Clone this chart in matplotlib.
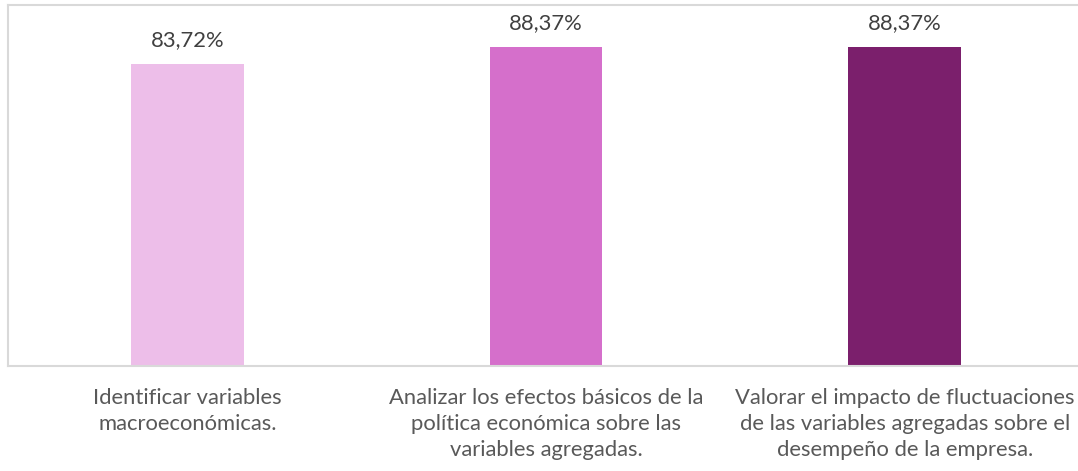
import matplotlib
matplotlib.use("Agg")
import matplotlib.pyplot as plt

categories = [
    "Identificar variables\nmacroeconómicas.",
    "Analizar los efectos básicos de la\npolítica económica sobre las\nvariables agregadas.",
    "Valorar el impacto de fluctuaciones\nde las variables agregadas sobre el\ndesempeño de la empresa.",
]
values = [83.72, 88.37, 88.37]
value_labels = ["83,72%", "88,37%", "88,37%"]
colors = ["#EDBEE9", "#D56FCB", "#7B1F6C"]

plt.rcParams['font.family'] = ['Lato', 'DejaVu Sans']

W, H = 1078, 471
fig = plt.figure(figsize=(W / 100, H / 100), dpi=100)
ax = fig.add_axes([8 / W, (H - 366) / H, (1084 - 8) / W, (366 - 5) / H])

x = list(range(len(values)))
bars = ax.bar(x, values, width=0.315, color=colors, zorder=2)
ax.set_xlim(-0.5, len(values) - 0.5)
ax.set_ylim(0, 100)

for xi, v, lab in zip(x, values, value_labels):
    ax.annotate(lab, (xi, v), xytext=(0, 10), textcoords="offset points",
                ha="center", va="bottom", fontsize=15.8, color="#404040")

ax.set_xticks(x)
ax.set_xticklabels(categories, fontsize=15.8, color="#595959", linespacing=1.38)
ax.tick_params(axis="x", length=0, pad=16)
ax.set_yticks([])
for s in ax.spines.values():
    s.set_color("#D9D9D9")
    s.set_linewidth(1.5)

fig.savefig("out.png", dpi=100)
